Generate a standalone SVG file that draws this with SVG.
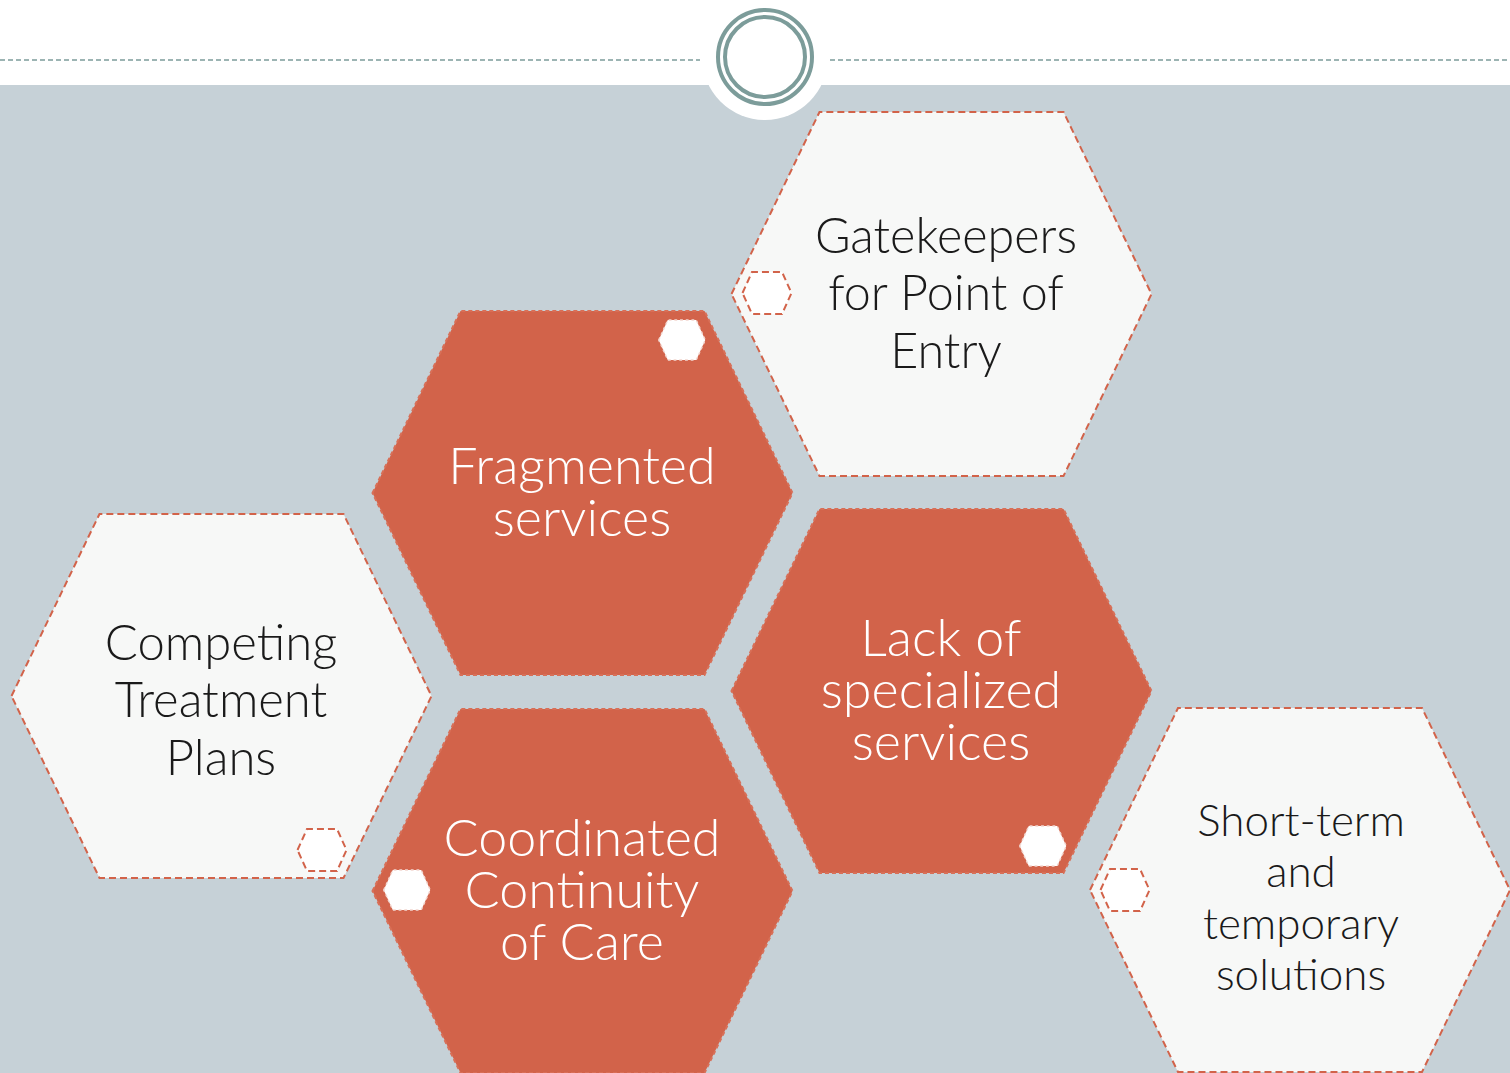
<svg xmlns="http://www.w3.org/2000/svg" width="1510" height="1073" viewBox="0 0 1510 1073">
<defs>
<style>
.bg{fill:#C6D1D7}
.hexw{fill:#F7F8F7;stroke:#D2634A;stroke-width:2;stroke-dasharray:7 4}
.hexo{fill:#D2634A;stroke:#D86F57;stroke-width:2;stroke-dasharray:4 3}
.sw{fill:#FFFFFF;stroke:#D2634A;stroke-width:2;stroke-dasharray:7 4}
.so{fill:#FFFFFF;stroke:#F2D6CF;stroke-width:1.5;stroke-dasharray:3 3}
.tk{font-family:Lato,"Open Sans","Liberation Sans",sans-serif;font-weight:300;fill:#1A1A1A;text-anchor:middle}
.tw{font-family:Lato,"Open Sans","Liberation Sans",sans-serif;font-weight:300;fill:#FFFFFF;text-anchor:middle}
.ring{fill:none;stroke:#7C9C9A;stroke-width:4}
</style>
<path id="bighex" d="M-210,0 L-122,-182 L122,-182 L210,0 L122,182 L-122,182 Z"/>
<path id="smhex" d="M-24.5,0 L-15,-21 L15,-21 L24.5,0 L15,21 L-15,21 Z"/>
</defs>
<rect x="0" y="0" width="1510" height="1073" fill="#FFFFFF"/>
<rect class="bg" x="0" y="85" width="1510" height="988"/>
<g id="header">
<line x1="0" y1="60" x2="700" y2="60" stroke="#7C9C9A" stroke-width="1.5" stroke-dasharray="5 3"/>
<line x1="830" y1="60" x2="1510" y2="60" stroke="#7C9C9A" stroke-width="1.5" stroke-dasharray="5 3"/>
<circle cx="765" cy="57" r="63" fill="#FFFFFF"/>
<circle class="ring" cx="765" cy="57" r="47"/>
<circle class="ring" cx="765" cy="57" r="40"/>
</g>
<g id="connectors"></g>
<g id="gatekeepers">
<use href="#bighex" class="hexw" transform="translate(941.5,294)"/>
<use href="#smhex" class="sw" transform="translate(767,293)"/>
<text class="tk" font-size="48.5"><tspan x="946" y="253">Gatekeepers</tspan><tspan x="946" y="310">for Point of</tspan><tspan x="946" y="368">Entry</tspan></text>
</g>
<g id="fragmented">
<use href="#bighex" class="hexo" transform="translate(582.5,493)"/>
<use href="#smhex" class="so" transform="translate(682,340) scale(0.95)"/>
<text class="tw" font-size="52"><tspan x="582" y="484">Fragmented</tspan><tspan x="582" y="536">services</tspan></text>
</g>
<g id="competing">
<use href="#bighex" class="hexw" transform="translate(221.5,696)"/>
<use href="#smhex" class="sw" transform="translate(322,850)"/>
<text class="tk" font-size="49"><tspan x="221" y="660">Competing</tspan><tspan x="221" y="717">Treatment</tspan><tspan x="221" y="775">Plans</tspan></text>
</g>
<g id="lack">
<use href="#bighex" class="hexo" transform="translate(941.5,691)"/>
<use href="#smhex" class="so" transform="translate(1043,846) scale(0.95)"/>
<text class="tw" font-size="52"><tspan x="941" y="656">Lack of</tspan><tspan x="941" y="708">specialized</tspan><tspan x="941" y="760">services</tspan></text>
</g>
<g id="coordinated">
<use href="#bighex" class="hexo" transform="translate(582.5,891)"/>
<use href="#smhex" class="so" transform="translate(407,890) scale(0.95)"/>
<text class="tw" font-size="52"><tspan x="582" y="856">Coordinated</tspan><tspan x="582" y="908">Continuity</tspan><tspan x="582" y="960">of Care</tspan></text>
</g>
<g id="shortterm">
<use href="#bighex" class="hexw" transform="translate(1300,890)"/>
<use href="#smhex" class="sw" transform="translate(1125,890)"/>
<text class="tk" font-size="44"><tspan x="1301" y="836">Short-term</tspan><tspan x="1301" y="887">and</tspan><tspan x="1301" y="939">temporary</tspan><tspan x="1301" y="990">solutions</tspan></text>
</g>
</svg>
